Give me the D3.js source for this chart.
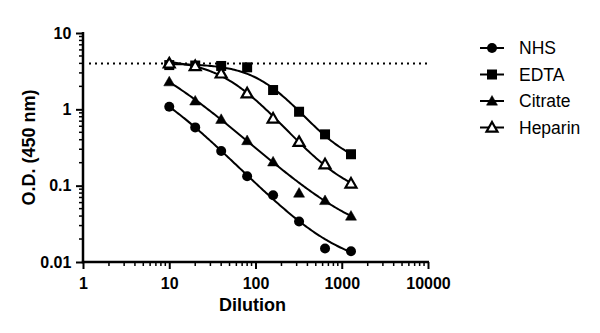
<!DOCTYPE html>
<html>
<head>
<meta charset="utf-8">
<script src="https://cdn.jsdelivr.net/npm/d3@7"></script>
<style>
  html, body { margin: 0; padding: 0; background: #fff; }
  svg { display: block; }
  text { font-family: "Liberation Sans", Arial, sans-serif; fill: #000; }
</style>
</head>
<body>
<svg id="chart" width="600" height="333"></svg>
<script>
// Serial dilutions of each sample
const dilutions = [10, 20, 40, 80, 160, 320, 640, 1280];

// Optical density readings at 450 nm
const nhs     = [1.08, 0.58, 0.285, 0.133, 0.075, 0.034, 0.015, 0.0138];
const edta    = [3.80, 3.75, 3.70, 3.55, 1.79, 0.93, 0.47, 0.258];
const citrate = [2.30, 1.29, 0.74, 0.39, 0.205, 0.080, 0.064, 0.040];
const heparin = [4.00, 3.70, 2.96, 1.62, 0.76, 0.375, 0.191, 0.107];

const seriesNames = ["NHS", "EDTA", "Citrate", "Heparin"];
const seriesValues = [nhs, edta, citrate, heparin];
const seriesSymbols = ["circle", "square", "triangle", "triangleOpen"];

// Cut-off level drawn as a dotted reference line
const cutoff = 4;

const xTickValues = [1, 10, 100, 1000, 10000];
const xTickLabels = ["1", "10", "100", "1000", "10000"];
const yTickValues = [0.01, 0.1, 1, 10];
const yTickLabels = ["0.01", "0.1", "1", "10"];

const svg = d3.select("#chart");
const plotLeft = 83, plotRight = 428, plotTop = 33, plotBottom = 262;

const x = d3.scaleLog().domain([1, 10000]).range([plotLeft, plotRight]);
const y = d3.scaleLog().domain([0.01, 10]).range([plotBottom, plotTop]);

// ---- four-parameter logistic fit (robust least squares on log OD) ----
function model(p, xv) {
  const topV = Math.pow(10, p[0]), botV = Math.pow(10, p[1]);
  return botV + (topV - botV) / (1 + Math.pow(xv / Math.pow(10, p[2]), p[3]));
}
function nelderMead(f, x0, step, iters) {
  const n = x0.length;
  let simplex = [x0.slice()];
  for (let i = 0; i < n; i++) { const v = x0.slice(); v[i] += step[i]; simplex.push(v); }
  let vals = simplex.map(f);
  for (let k = 0; k < iters; k++) {
    const idx = d3.range(n + 1).sort((a, b) => vals[a] - vals[b]);
    simplex = idx.map(i => simplex[i]); vals = idx.map(i => vals[i]);
    const c = d3.range(n).map(j => d3.mean(simplex.slice(0, n), s => s[j]));
    const worst = simplex[n];
    const pt = t => c.map((cj, j) => cj + t * (worst[j] - cj));
    const xr = pt(-1), fr = f(xr);
    if (fr < vals[0]) {
      const xe = pt(-2), fe = f(xe);
      if (fe < fr) { simplex[n] = xe; vals[n] = fe; } else { simplex[n] = xr; vals[n] = fr; }
    } else if (fr < vals[n - 1]) {
      simplex[n] = xr; vals[n] = fr;
    } else {
      const xc = fr < vals[n] ? pt(-0.5) : pt(0.5), fc = f(xc);
      if (fc < Math.min(fr, vals[n])) { simplex[n] = xc; vals[n] = fc; }
      else {
        for (let i = 1; i <= n; i++) {
          simplex[i] = simplex[i].map((v, j) => simplex[0][j] + 0.5 * (v - simplex[0][j]));
          vals[i] = f(simplex[i]);
        }
      }
    }
  }
  const best = d3.minIndex(vals);
  return simplex[best];
}
function fit4PL(xs, ys) {
  const c = 0.05; // Cauchy loss scale, log10 units
  const obj = p => {
    if (p[3] <= 0.05 || p[3] > 8) return 1e9;
    return d3.sum(xs, (xv, i) => {
      const m = model(p, xv);
      if (!(m > 0)) return 1e6;
      const d = (Math.log10(m) - Math.log10(ys[i])) / c;
      return Math.log(1 + d * d);
    });
  };
  const p0 = [Math.log10(d3.max(ys) * 1.1), Math.log10(d3.min(ys) * 0.7),
              d3.mean(xs, v => Math.log10(v)), 1];
  let p = nelderMead(obj, p0, [0.2, 0.3, 0.3, 0.3], 3000);
  p = nelderMead(obj, p, [0.05, 0.1, 0.1, 0.1], 3000);
  p = nelderMead(obj, p, [0.02, 0.04, 0.04, 0.04], 3000);
  return p;
}

// ---- axes ----
const axisW = 2.5;
const fontStack = "Liberation Sans, Arial, sans-serif";
const gx = svg.append("g").attr("transform", `translate(0,${plotBottom})`);
gx.call(d3.axisBottom(x).tickValues(xTickValues).tickFormat((d, i) => xTickLabels[i])
      .tickSize(7).tickSizeOuter(0));
gx.select(".domain").attr("stroke-width", axisW).attr("d", `M${plotLeft - 1.2},0H${plotRight + 1}`);
gx.selectAll(".tick line").attr("stroke-width", 2);
gx.selectAll(".tick text").attr("dy", "1.05em")
  .style("font-size", "16px").style("font-weight", "bold").style("font-family", fontStack);
// minor ticks on x
const xMinor = [];
for (let e = 0; e < 4; e++) for (let m = 2; m <= 9; m++) xMinor.push(m * Math.pow(10, e));
gx.selectAll(".minor").data(xMinor).enter().append("line")
  .attr("x1", d => x(d)).attr("x2", d => x(d)).attr("y1", 0).attr("y2", 4)
  .attr("stroke", "#000").attr("stroke-width", 1.5);

const gy = svg.append("g").attr("transform", `translate(${plotLeft},0)`);
gy.call(d3.axisLeft(y).tickValues(yTickValues).tickFormat((d, i) => yTickLabels[i])
      .tickSize(7).tickSizeOuter(0));
gy.select(".domain").attr("stroke-width", axisW).attr("d", `M0,${plotBottom + 1.2}V${plotTop - 1}`);
gy.selectAll(".tick line").attr("stroke-width", 2);
gy.selectAll(".tick text").attr("dx", "-0.1em")
  .style("font-size", "16px").style("font-weight", "bold").style("font-family", fontStack);
const yMinor = [];
for (let e = -2; e < 1; e++) for (let m = 2; m <= 9; m++) yMinor.push(m * Math.pow(10, e));
gy.selectAll(".minor").data(yMinor).enter().append("line")
  .attr("y1", d => y(d)).attr("y2", d => y(d)).attr("x1", 0).attr("x2", -4)
  .attr("stroke", "#000").attr("stroke-width", 1.5);

// axis titles
svg.append("text").attr("x", (plotLeft + plotRight) / 2 - 3).attr("y", 311)
  .attr("text-anchor", "middle").style("font-size", "18px").style("font-weight", "bold")
  .text("Dilution");
svg.append("text").attr("transform", `translate(35,${(plotTop + plotBottom) / 2}) rotate(-90)`)
  .attr("text-anchor", "middle").style("font-size", "18px").style("font-weight", "bold")
  .text("O.D. (450 nm)");

// cut-off line
svg.append("line").attr("x1", plotLeft + 6).attr("x2", plotRight + 2)
  .attr("y1", y(cutoff)).attr("y2", y(cutoff))
  .attr("stroke", "#000").attr("stroke-width", 2).attr("stroke-dasharray", "2,4");

// ---- symbols ----
function drawSymbol(g, kind, cx, cy) {
  if (kind === "circle") {
    g.append("circle").attr("cx", cx).attr("cy", cy).attr("r", 5).attr("fill", "#000");
  } else if (kind === "square") {
    g.append("rect").attr("x", cx - 5).attr("y", cy - 5).attr("width", 10).attr("height", 10).attr("fill", "#000");
  } else {
    const s = 5.5;
    const pts = [[cx, cy - s], [cx + s, cy + s * 0.75], [cx - s, cy + s * 0.75]];
    const open = kind === "triangleOpen";
    g.append("path").attr("d", "M" + pts.join("L") + "Z")
      .attr("fill", open ? "#fff" : "#000").attr("stroke", "#000")
      .attr("stroke-width", open ? 2.2 : 0.5).attr("stroke-linejoin", "miter");
  }
}

// ---- fitted curves and points ----
const line = d3.line().x(d => x(d[0])).y(d => y(d[1]));
const plot = svg.append("g");
seriesValues.forEach((vals, si) => {
  const p = fit4PL(dilutions, vals);
  const x0 = d3.min(dilutions), x1 = d3.max(dilutions);
  const samples = d3.range(0, 121).map(i => {
    const xv = Math.pow(10, Math.log10(x0) + (Math.log10(x1) - Math.log10(x0)) * i / 120);
    return [xv, model(p, xv)];
  });
  plot.append("path").attr("d", line(samples)).attr("fill", "none")
    .attr("stroke", "#000").attr("stroke-width", 2);
});
// markers after curves; filled series first, open triangles on top
[0, 2, 1, 3].forEach(si => {
  const g = plot.append("g");
  seriesValues[si].forEach((v, i) => drawSymbol(g, seriesSymbols[si], x(dilutions[i]), y(v)));
});

// ---- legend ----
const legend = svg.append("g");
const legendY = [48, 74.5, 101, 127.5];
seriesNames.forEach((name, i) => {
  const g = legend.append("g");
  g.append("line").attr("x1", 480).attr("x2", 504).attr("y1", legendY[i]).attr("y2", legendY[i])
    .attr("stroke", "#000").attr("stroke-width", 2);
  drawSymbol(g, seriesSymbols[i], 492, legendY[i]);
  g.append("text").attr("x", 519).attr("y", legendY[i]).attr("dy", "0.36em")
    .style("font-size", "17.5px").text(name);
});
</script>
</body>
</html>
